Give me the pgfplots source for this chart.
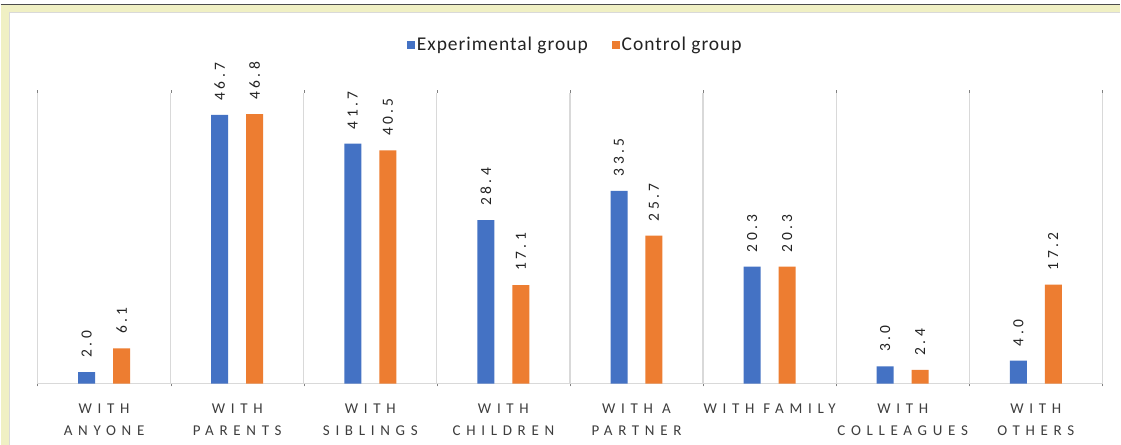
\documentclass[border=0pt]{standalone}
\usepackage{fontspec}
\setmainfont{Carlito}
\newfontfamily\spaced[LetterSpace=38]{Carlito}
\newfontfamily\numfont[LetterSpace=22]{Carlito}
\newfontfamily\legfont[LetterSpace=5]{Carlito}
\usepackage{pgfplots}
\pgfplotsset{compat=1.18}
\definecolor{cblue}{RGB}{68,114,196}
\definecolor{corange}{RGB}{237,125,49}
\definecolor{cream}{RGB}{240,240,196}
\definecolor{txtgray}{RGB}{62,62,62}
\definecolor{darktxt}{RGB}{35,35,35}
\definecolor{gridgray}{RGB}{217,217,217}
\begin{document}
\begin{tikzpicture}[x=1pt,y=1pt]
\fill[cream] (-37,-61) rectangle (1084,384);
\fill[white] (-37,380) rectangle (1084,384);
\draw[black!70, line width=1.2pt] (-37,379.5) -- (1084,379.5);
\fill[white] (-28,-61) rectangle (1084,372);
\draw[gridgray] (-28,-61) -- (-28,372) -- (1084,372);
\useasboundingbox (-37,-61) rectangle (1084,384);
\begin{axis}[
  at={(0,0)}, anchor=south west,
  scale only axis, width=1066pt, height=291pt,
  xmin=-0.5, xmax=7.5, ymin=0, ymax=50.5,
  axis line style={draw=none},
  ytick=\empty,
  xtick={0,...,7},
  xticklabels={{WITH\\ANYONE},{WITH\\PARENTS},{WITH\\SIBLINGS},{WITH\\CHILDREN},{WITH A\\PARTNER},{WITH FAMILY},{WITH\\COLLEAGUES},{WITH\\OTHERS}},
  major tick length=0pt,
  minor xtick={-0.5,0.5,...,7.5},
  xminorgrids, minor grid style={gridgray, line width=1.2pt},
  xticklabel style={font=\spaced\fontsize{15}{22}\selectfont, text=txtgray, align=center, anchor=north, yshift=-17pt},
  ybar, bar width=17pt,
  nodes near coords,
  nodes near coords style={rotate=90, anchor=west, font=\numfont\fontsize{15.5}{16}\selectfont, text=darktxt, xshift=11pt,
    /pgf/number format/.cd, fixed, fixed zerofill, precision=1, assume math mode=true},
  legend style={at={(0.505,1.165)}, anchor=center, draw=none, fill=none, legend columns=2,
    font=\legfont\fontsize{19.5}{21}\selectfont, text=darktxt,
    /tikz/every even column/.append style={column sep=22pt}},
  legend image code/.code={\fill[#1] (0pt,-4pt) rectangle (8pt,4pt);},
]
\draw[gridgray, line width=1.2pt] (axis cs:-0.5,0) -- (axis cs:7.5,0);
\addplot[fill=cblue, draw=none, bar shift=-17.5pt] coordinates {(0,2.0) (1,46.7) (2,41.7) (3,28.4) (4,33.5) (5,20.3) (6,3.0) (7,4.0)};
\addplot[fill=corange, draw=none, bar shift=17.5pt] coordinates {(0,6.1) (1,46.8) (2,40.5) (3,17.1) (4,25.7) (5,20.3) (6,2.4) (7,17.2)};
\legend{Experimental group, Control group}
\end{axis}
\end{tikzpicture}
\end{document}
